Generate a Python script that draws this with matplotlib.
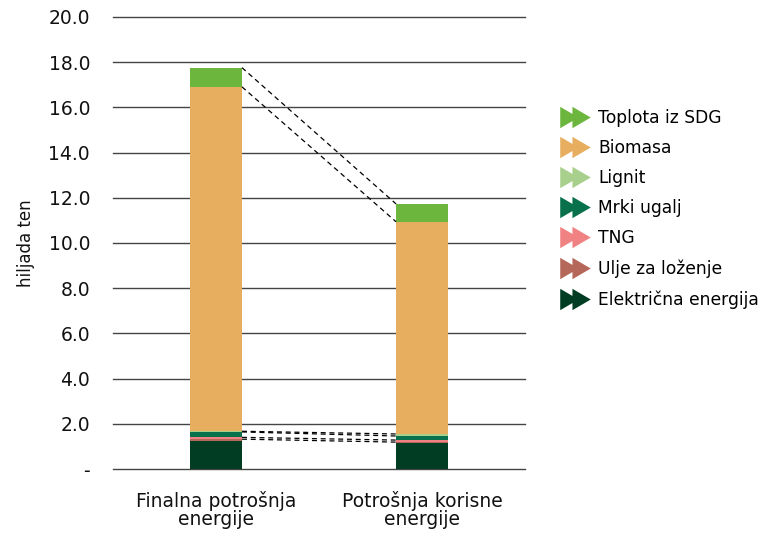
import matplotlib
matplotlib.use("Agg")
import matplotlib.pyplot as plt
from matplotlib.path import Path
from matplotlib.lines import Line2D
import numpy as np

plt.rcParams['font.family'] = ['DejaVu Sans']

categories = ["Finalna potrošnja\nenergije", "Potrošnja korisne\nenergije"]
series = ["Električna energija", "Ulje za loženje", "TNG", "Mrki ugalj", "Lignit", "Biomasa", "Toplota iz SDG"]
values = {
    "Električna energija": [1.24, 1.15],
    "Ulje za loženje": [0.08, 0.04],
    "TNG": [0.08, 0.09],
    "Mrki ugalj": [0.24, 0.18],
    "Lignit": [0.03, 0.09],
    "Biomasa": [15.24, 9.39],
    "Toplota iz SDG": [0.85, 0.79],
}
colors = {
    "Električna energija": "#003D22",
    "Ulje za loženje": "#B5685A",
    "TNG": "#F08284",
    "Mrki ugalj": "#08704A",
    "Lignit": "#A8D08C",
    "Biomasa": "#E6AE5E",
    "Toplota iz SDG": "#6CB63E",
}
yticks = [0, 2, 4, 6, 8, 10, 12, 14, 16, 18, 20]
yticklabels = ["-", "2.0", "4.0", "6.0", "8.0", "10.0", "12.0", "14.0", "16.0", "18.0", "20.0"]
dashed_series = ["Ulje za loženje", "TNG", "Mrki ugalj", "Lignit", "Biomasa", "Toplota iz SDG"]

fig = plt.figure(figsize=(7.62, 5.35), dpi=100)
ax = fig.add_axes([113/762, 1-469/535, (525-113)/762, (469-17)/535])

x = np.arange(len(categories))
width = 0.252
bottom = np.zeros(len(categories))
tops = {}
for s in series:
    v = np.array(values[s])
    ax.bar(x, v, width, bottom=bottom, color=colors[s], zorder=3, linewidth=0)
    bottom = bottom + v
    tops[s] = bottom.copy()

for s in dashed_series:
    t = tops[s]
    ax.plot([x[0] + width/2, x[1] - width/2], [t[0], t[1]], color="black",
            linestyle=(0, (4, 3)), linewidth=0.9, zorder=4)

ax.set_xlim(-0.5, 1.5)
ax.set_ylim(0, 20)
ax.set_yticks(yticks)
ax.set_yticklabels(yticklabels, fontsize=13.5, color="#111111")
ax.set_xticks(x)
ax.set_xticklabels(categories, fontsize=13.5, color="#111111", linespacing=0.95)
ax.tick_params(axis="y", length=0, pad=16.5)
ax.tick_params(axis="x", length=0, pad=16)
ax.yaxis.grid(True, color="#444444", linewidth=1.0, zorder=0)
for gl in ax.get_ygridlines():
    gl.set_clip_on(False)
ax.set_axisbelow(True)
for sp in ax.spines.values():
    sp.set_visible(False)
ax.set_ylabel("hiljada ten", fontsize=12, color="#111111", labelpad=10)

# double-chevron marker
verts = [(-0.5, -0.35), (0.1, 0.0), (-0.5, 0.35), (-0.5, -0.35),
         (-0.1, -0.35), (0.5, 0.0), (-0.1, 0.35), (-0.1, -0.35)]
codes = [Path.MOVETO, Path.LINETO, Path.LINETO, Path.CLOSEPOLY] * 2
chev = Path(verts, codes)

handles = [Line2D([], [], marker=chev, linestyle="none", markersize=22,
                  markerfacecolor=colors[s], markeredgecolor=colors[s], markeredgewidth=0)
           for s in reversed(series)]
labels = list(reversed(series))
leg = fig.legend(handles, labels, loc="upper left", bbox_to_anchor=(553/762, 1-102/535),
                 frameon=False, fontsize=12.3, labelspacing=0.71, handlelength=1.75,
                 handletextpad=0.5, borderaxespad=0)

fig.savefig("out.png", dpi=100)
